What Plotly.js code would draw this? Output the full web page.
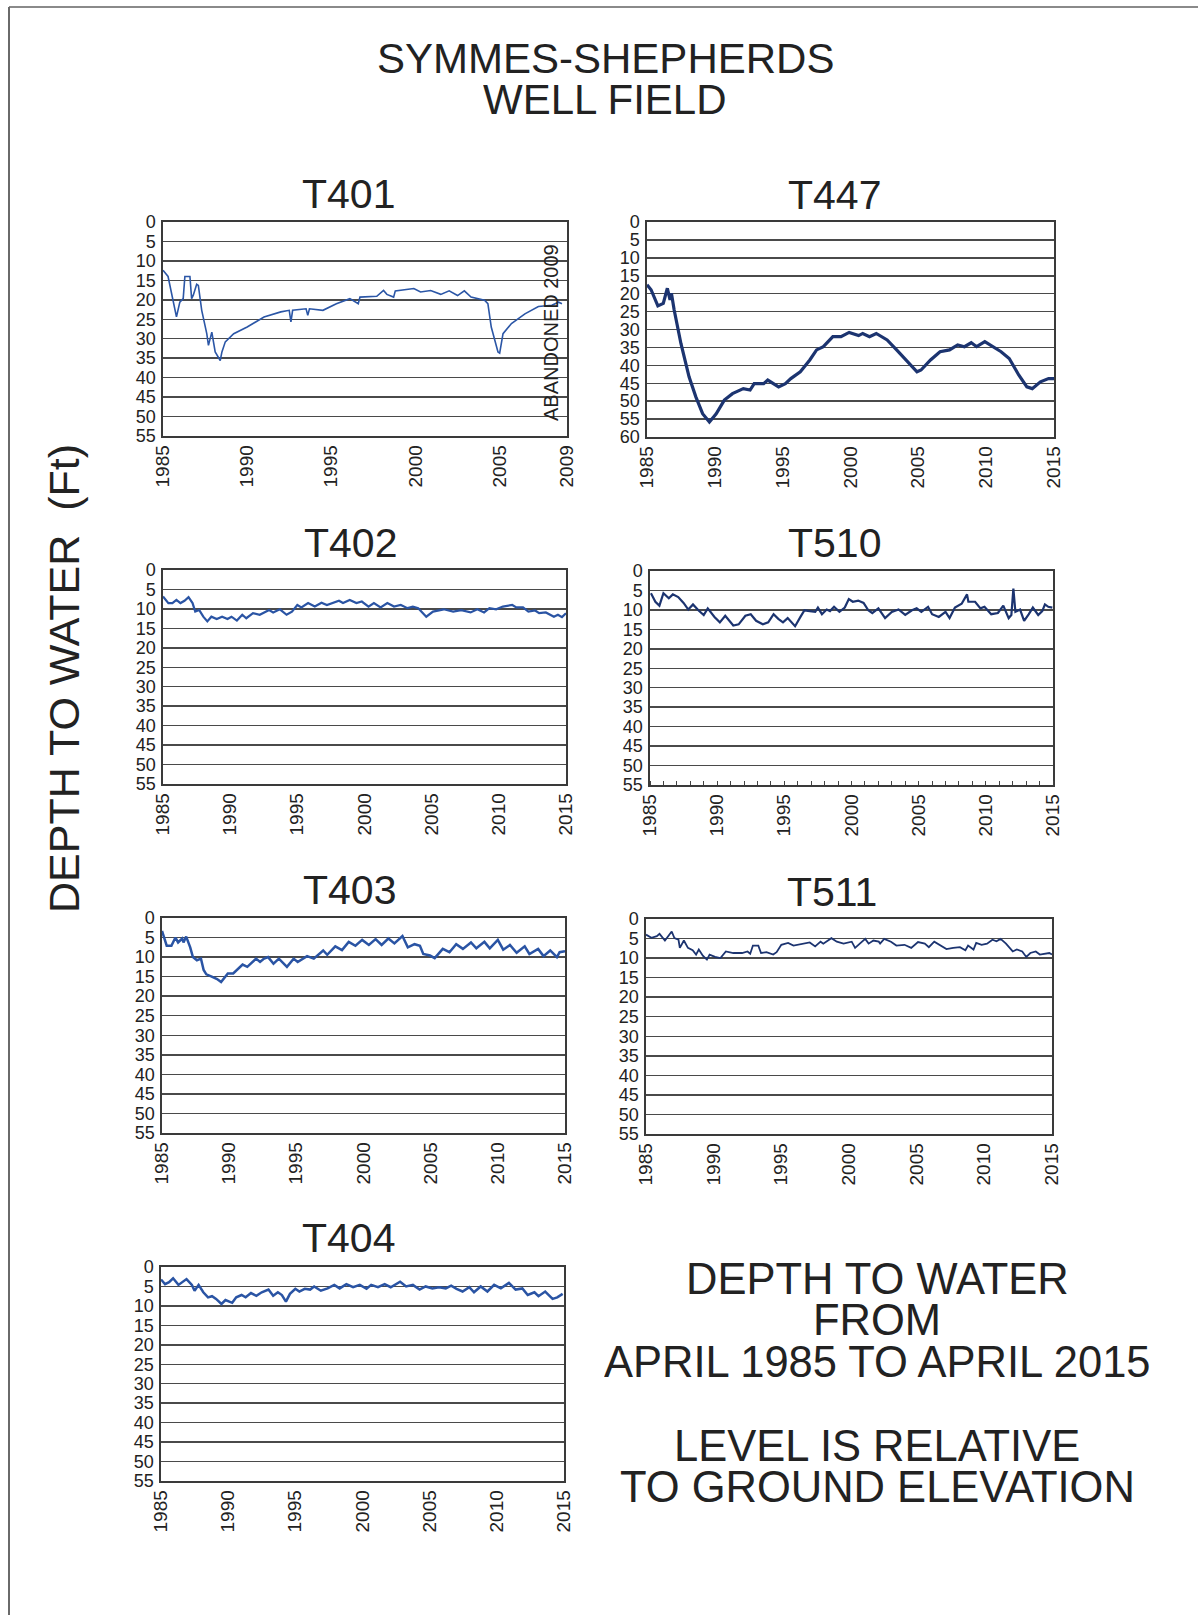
<!DOCTYPE html>
<html><head><meta charset="utf-8">
<script src="https://cdn.plot.ly/plotly-3.0.1.min.js"></script>
<style>html,body{margin:0;padding:0;background:#fff;} #chart{width:1198px;height:1615px;}</style>
</head><body><div id="chart"></div>
<script>
// ---------- DATA (depth to water, ft) ----------
const wellNames = ['T401','T447','T402','T510','T403','T511','T404'];

const t401Year  = [1985.0,1985.3,1985.8,1986.0,1986.2,1986.3,1986.6,1986.7,1986.8,1987.0,1987.1,1987.3,1987.6,1987.7,1987.9,1988.0,1988.1,1988.4,1988.5,1988.7,1989.2,1990.0,1991.0,1992.0,1992.5,1992.6,1992.7,1993.5,1993.6,1993.7,1994.5,1995.3,1996.1,1996.6,1996.7,1997.7,1998.1,1998.3,1998.7,1998.8,1999.9,2000.3,2000.9,2001.5,2002.0,2002.5,2002.9,2003.3,2004.1,2004.3,2004.5,2004.9,2005.0,2005.2,2005.7,2006.5,2007.3,2008.1,2008.5,2008.7];
const t401Depth = [12.4,14.0,24.4,20.6,19.7,14.0,14.0,19.7,18.8,16.0,16.3,22.7,28.7,31.7,28.3,30.4,33.4,35.6,33.4,30.8,28.7,27.0,24.4,23.1,22.7,25.7,22.7,22.3,24.0,22.3,22.7,21.0,19.7,21.0,19.3,19.1,17.6,18.6,19.3,17.7,17.1,18.0,17.6,18.6,17.7,18.9,17.7,19.3,20.1,21.0,27.0,33.4,33.7,28.7,26.1,23.6,21.7,21.4,20.6,21.0];

const t447Year  = [1985.0,1985.3,1985.8,1986.2,1986.5,1986.7,1986.8,1987.0,1987.5,1988.1,1988.6,1989.1,1989.6,1990.1,1990.7,1991.3,1992.1,1992.6,1992.9,1993.6,1993.9,1994.7,1995.2,1995.6,1996.3,1997.0,1997.5,1998.0,1998.7,1999.3,1999.9,2000.6,2000.9,2001.4,2001.9,2002.7,2003.4,2004.1,2004.9,2005.2,2005.9,2006.6,2007.3,2007.9,2008.4,2008.9,2009.3,2009.9,2010.5,2011.1,2011.7,2012.4,2013.0,2013.4,2014.0,2014.6,2015.0];
const t447Depth = [17.5,18.9,23.4,22.7,18.5,21.7,19.9,24.5,33.9,43.2,48.8,53.5,55.8,53.5,49.7,47.9,46.5,46.9,45.1,45.1,44.1,46.0,45.1,43.7,41.8,38.5,35.7,34.8,32.0,32.0,30.8,31.7,31.1,32.0,31.1,32.9,35.7,38.5,41.8,41.3,38.5,36.2,35.7,34.3,34.8,33.7,34.8,33.4,34.8,36.2,38.1,42.7,46.0,46.5,44.6,43.7,43.7];

const t402Year  = [1985.0,1985.4,1985.7,1986.0,1986.3,1986.6,1986.9,1987.2,1987.4,1987.7,1988.0,1988.3,1988.6,1989.0,1989.4,1989.8,1990.1,1990.5,1990.9,1991.2,1991.7,1992.2,1992.9,1993.2,1993.7,1994.2,1994.6,1995.0,1995.3,1995.8,1996.3,1996.8,1997.2,1997.7,1998.1,1998.4,1998.9,1999.4,1999.8,2000.3,2000.7,2001.2,2001.7,2002.2,2002.7,2003.2,2003.6,2004.0,2004.4,2004.6,2005.1,2005.9,2006.6,2007.2,2007.9,2008.4,2008.9,2009.3,2009.8,2010.3,2011.0,2011.3,2011.8,2012.2,2012.7,2013.0,2013.5,2014.1,2014.4,2014.7,2015.0];
const t402Depth = [6.8,8.5,8.5,7.7,8.5,7.9,7.0,8.5,10.7,10.3,12.0,13.2,12.0,12.6,12.0,12.6,12.0,13.0,11.5,12.4,11.1,11.5,10.3,10.9,10.1,11.5,10.7,9.0,9.6,8.5,9.4,8.4,9.0,8.5,7.9,8.5,7.7,8.5,8.1,9.4,8.5,9.6,8.5,9.4,9.0,9.8,9.4,9.8,11.1,12.0,10.7,10.1,10.7,10.3,10.9,10.1,10.9,9.8,10.1,9.4,9.0,9.6,9.6,10.7,10.4,11.1,10.9,12.0,11.5,12.1,11.1];

const t510Year  = [1985.07,1985.4,1985.7,1986.0,1986.4,1986.7,1987.1,1987.5,1987.85,1988.2,1988.6,1989.0,1989.3,1989.8,1990.2,1990.6,1991.2,1991.6,1992.1,1992.5,1992.9,1993.4,1993.8,1994.2,1994.55,1994.9,1995.25,1995.8,1996.2,1996.5,1996.9,1997.3,1997.5,1997.8,1998.15,1998.4,1998.7,1999.1,1999.5,1999.8,2000.1,2000.5,2000.9,2001.25,2001.55,2002.0,2002.5,2003.0,2003.5,2004.0,2004.5,2004.85,2005.2,2005.7,2006.0,2006.5,2007.0,2007.3,2007.7,2008.2,2008.6,2008.7,2009.2,2009.6,2009.9,2010.4,2010.9,2011.3,2011.7,2011.9,2012.05,2012.2,2012.55,2012.85,2013.2,2013.5,2013.9,2014.2,2014.4,2014.65,2014.95];
const t510Depth = [5.7,7.9,8.9,5.7,7.0,6.0,6.7,8.2,9.9,8.6,10.1,11.3,9.6,11.8,13.2,11.5,14.0,13.7,11.5,11.1,12.8,13.7,13.2,11.1,12.3,13.2,12.1,14.2,11.8,10.1,10.3,10.5,9.4,11.1,9.9,10.3,9.2,10.5,9.4,7.2,7.9,7.6,8.2,10.1,10.8,9.6,12.1,10.5,9.9,11.3,10.1,9.6,10.5,9.2,11.1,11.8,10.5,12.1,9.4,8.4,6.0,7.9,7.9,9.6,9.2,11.1,10.8,8.9,12.1,11.3,4.5,10.5,9.9,12.8,11.1,9.4,11.3,10.3,8.6,9.2,9.4];

const t403Year  = [1985.0,1985.35,1985.7,1986.0,1986.2,1986.5,1986.6,1986.8,1987.1,1987.3,1987.6,1987.9,1988.1,1988.3,1988.7,1989.1,1989.4,1989.6,1989.9,1990.3,1990.7,1991.0,1991.35,1991.7,1992.0,1992.3,1992.6,1992.9,1993.3,1993.7,1994.3,1994.8,1995.1,1995.8,1996.3,1997.0,1997.3,1997.9,1998.4,1998.9,1999.4,1999.9,2000.4,2000.9,2001.35,2001.85,2002.3,2002.9,2003.3,2003.8,2004.2,2004.45,2004.95,2005.3,2005.9,2006.4,2006.9,2007.4,2008.0,2008.4,2009.0,2009.4,2010.0,2010.4,2010.9,2011.4,2012.0,2012.35,2013.0,2013.4,2013.9,2014.4,2014.6,2015.0];
const t403Depth = [3.3,7.1,7.1,5.0,6.25,5.25,6.25,4.75,7.5,10.0,10.8,10.4,13.3,14.4,15.0,15.6,16.4,15.4,14.2,14.2,12.9,11.9,12.5,11.25,10.4,11.25,10.4,10.0,11.7,10.4,12.5,10.4,11.25,9.75,10.4,8.3,9.4,7.25,8.2,6.1,7.1,5.6,6.9,5.4,6.9,5.25,6.5,4.6,7.5,6.7,7.1,9.2,9.6,10.25,7.9,8.75,6.7,7.9,6.25,7.75,6.1,7.75,5.6,8.1,6.9,8.9,7.25,9.2,7.9,9.75,8.3,10.0,8.75,8.5];

const t511Year  = [1985.0,1985.4,1985.8,1986.0,1986.4,1986.65,1986.9,1987.1,1987.4,1987.5,1987.8,1988.1,1988.45,1988.7,1988.9,1989.2,1989.5,1989.7,1990.1,1990.5,1990.9,1991.45,1992.1,1992.5,1992.7,1992.9,1993.3,1993.5,1993.9,1994.4,1994.65,1995.0,1995.5,1995.9,1996.5,1997.1,1997.5,1997.9,1998.1,1998.7,1999.1,1999.6,2000.2,2000.45,2000.8,2001.2,2001.45,2001.8,2002.2,2002.3,2002.6,2003.1,2003.5,2004.1,2004.6,2005.1,2005.6,2005.9,2006.3,2006.7,2007.2,2007.7,2008.2,2008.6,2008.8,2009.2,2009.4,2009.8,2010.2,2010.6,2010.9,2011.2,2011.6,2012.1,2012.4,2012.8,2013.1,2013.4,2013.8,2014.1,2014.5,2014.8,2015.0];
const t511Depth = [4.0,4.8,4.4,3.8,5.5,4.4,3.2,4.9,5.3,7.4,5.5,7.4,8.0,9.1,7.8,9.4,10.4,9.1,9.7,10.0,8.3,8.7,8.7,8.3,8.9,6.8,6.8,8.7,8.5,9.1,8.5,6.6,6.1,6.8,6.3,6.0,7.0,5.8,6.3,4.9,5.8,6.3,5.8,7.4,6.3,5.1,6.3,5.5,5.8,6.3,5.1,5.8,6.8,6.6,7.4,5.9,6.3,7.2,5.8,6.6,7.7,7.4,7.2,8.0,6.8,7.8,6.1,6.6,6.3,5.3,5.7,5.1,6.3,8.3,7.8,8.3,9.7,8.7,8.3,9.1,8.9,8.7,9.1];

const t404Year  = [1985.0,1985.3,1985.6,1985.9,1986.3,1986.6,1986.9,1987.3,1987.5,1987.8,1988.15,1988.5,1988.8,1989.1,1989.5,1989.8,1990.3,1990.6,1991.0,1991.3,1991.7,1992.1,1992.5,1993.0,1993.35,1993.7,1994.0,1994.3,1994.6,1995.0,1995.3,1995.7,1996.1,1996.4,1996.9,1997.4,1997.9,1998.3,1998.8,1999.3,1999.8,2000.3,2000.65,2001.15,2001.65,2002.1,2002.5,2002.8,2003.25,2003.75,2004.25,2004.7,2005.2,2005.7,2006.2,2006.6,2007.0,2007.45,2007.95,2008.3,2008.8,2009.3,2009.8,2010.3,2010.9,2011.4,2011.9,2012.3,2012.8,2013.1,2013.6,2014.15,2014.5,2014.9];
const t404Depth = [3.2,4.4,3.9,2.9,4.6,3.8,3.1,4.6,6.1,4.6,6.5,7.8,7.5,8.2,9.5,8.5,9.2,7.8,7.2,7.8,6.7,7.4,6.5,5.8,7.4,6.5,7.2,8.9,6.9,5.6,6.3,5.6,5.8,5.0,6.1,5.5,4.6,5.5,4.4,5.2,4.6,5.6,4.6,5.2,4.4,5.2,4.4,3.8,5.0,4.6,5.8,5.0,5.5,5.2,5.5,4.8,5.6,6.3,5.2,6.5,5.0,6.3,4.6,5.5,4.1,5.8,5.5,7.2,6.5,7.5,6.3,8.2,7.8,6.9];

const xTickYears = [1985,1990,1995,2000,2005,2010,2015];
const xTickYearsT401 = [1985,1990,1995,2000,2005,2009];

// ---------- LAYOUT ----------
const W = 1198, H = 1615;
const seriesData = {
  T401:[t401Year,t401Depth], T447:[t447Year,t447Depth], T402:[t402Year,t402Depth],
  T510:[t510Year,t510Depth], T403:[t403Year,t403Depth], T511:[t511Year,t511Depth],
  T404:[t404Year,t404Depth]
};
// pixel boxes [left, right, top, bottom]
const boxes = {
  T401:[163,567,222,436], T447:[647,1054,222,437],
  T402:[163,566,570,784], T510:[650,1053,571,785],
  T403:[162,565,918,1133], T511:[646,1052,919,1134],
  T404:[161,564,1267,1481]
};
const titlePos = {T401:[348,194],T447:[834,195],T402:[350,543],T510:[834,543],T403:[349,890],T511:[832,892],T404:[348,1238]};
const styles = {
  T401:{color:'#2b56a6',width:1.6}, T447:{color:'#1c3470',width:3.2},
  T402:{color:'#2a54a4',width:2.2}, T510:{color:'#1c3470',width:2.2},
  T403:{color:'#2a54a4',width:2.5}, T511:{color:'#1c3470',width:1.8},
  T404:{color:'#2a54a4',width:2.5}
};
const FONT = 'Liberation Sans, Arial, sans-serif';
const TXT = '#222';

const traces = [];
const layout = {
  width: W, height: H,
  margin:{l:0,r:0,t:0,b:0},
  paper_bgcolor:'#fff', plot_bgcolor:'#fff',
  showlegend:false,
  font:{family:FONT,color:TXT},
  annotations:[], shapes:[]
};
const px = x => x / W;
const py = y => 1 - y / H;

wellNames.forEach((name, i) => {
  const n = i + 1;
  const xa = n === 1 ? 'xaxis' : 'xaxis' + n;
  const ya = n === 1 ? 'yaxis' : 'yaxis' + n;
  const xr = n === 1 ? 'x' : 'x' + n;
  const yr = n === 1 ? 'y' : 'y' + n;
  const b = boxes[name];
  const [xs, ys] = seriesData[name];
  traces.push({type:'scatter', mode:'lines', x:xs, y:ys, xaxis:xr, yaxis:yr,
    line:{color:styles[name].color, width:styles[name].width}, hoverinfo:'skip'});
  const ymax = name === 'T447' ? 60 : 55;
  const yt = []; for (let v = 0; v <= ymax; v += 5) yt.push(v);
  const xt = name === 'T401' ? xTickYearsT401 : xTickYears;
  layout[xa] = {
    domain:[px(b[0]), px(b[1])], anchor:yr,
    range:[1985, name === 'T401' ? 2009 : 2015],
    tickmode:'array', tickvals:xt, ticktext:xt.map(String),
    tickangle:-90, tickfont:{size:19, family:FONT, color:TXT},
    showgrid:false, zeroline:false, showline:true, mirror:true,
    linecolor:'#3a3a3a', linewidth:1.6, ticks:'', fixedrange:true
  };
  if (name === 'T510') {
    layout[xa].minor = {dtick:1, tick0:1985, ticks:'inside', ticklen:4, tickcolor:'#444', showgrid:false};
  }
  layout[ya] = {
    domain:[py(b[3]), py(b[2])], anchor:xr,
    range:[ymax, 0],
    tickmode:'array', tickvals:yt, ticktext:yt.map(String),
    tickfont:{size:18, family:FONT, color:TXT},
    showgrid:true, gridcolor:'#4a4a4a', gridwidth:1.5,
    zeroline:false, showline:true, mirror:true,
    linecolor:'#3a3a3a', linewidth:1.6, ticks:'', ticklabelstandoff:2, fixedrange:true
  };
  layout.annotations.push({xref:'paper', yref:'paper', x:px(titlePos[name][0]), y:py(titlePos[name][1]),
    text:name, showarrow:false, xanchor:'center', yanchor:'middle',
    font:{size:41, family:FONT, color:TXT}});
});

// ABANDONED note in T401
layout.annotations.push({xref:'paper', yref:'paper', x:px(551), y:py(333), text:'ABANDONED 2009',
  textangle:-90, showarrow:false, xanchor:'center', yanchor:'middle', font:{size:20, family:FONT, color:TXT}});

// main title (two stacked lines)
[['SYMMES-SHEPHERDS',58],['WELL FIELD',99]].forEach(([t,y]) => {
  layout.annotations.push({xref:'paper', yref:'paper', x:px(605), y:py(y), text:t, showarrow:false,
    xanchor:'center', yanchor:'middle', height:40, font:{size:42, family:FONT, color:TXT}});
});

// shared y-axis label
layout.annotations.push({xref:'paper', yref:'paper', x:px(64), y:py(679), text:'DEPTH TO WATER\u00A0\u00A0(Ft)',
  textangle:-90, showarrow:false, xanchor:'center', yanchor:'middle', font:{size:43, family:FONT, color:TXT}});

// note block
[['DEPTH TO WATER',1279],['FROM',1320],['APRIL 1985 TO APRIL 2015',1362],
 ['LEVEL IS RELATIVE',1446],['TO GROUND ELEVATION',1487]].forEach(([t,y]) => {
  layout.annotations.push({xref:'paper', yref:'paper', x:px(877), y:py(y), text:t, showarrow:false,
    xanchor:'center', yanchor:'middle', height:40, font:{size:43.5, family:FONT, color:TXT}});
});

// page border (scan frame)
layout.shapes.push({type:'line', xref:'paper', yref:'paper', x0:px(9), x1:1, y0:py(7), y1:py(7), line:{color:'#8a8a8a', width:2}});
layout.shapes.push({type:'line', xref:'paper', yref:'paper', x0:px(9), x1:px(9), y0:py(7), y1:0, line:{color:'#6a6a6a', width:2}});

Plotly.newPlot('chart', traces, layout, {staticPlot:true, displayModeBar:false});
</script>
</body></html>
